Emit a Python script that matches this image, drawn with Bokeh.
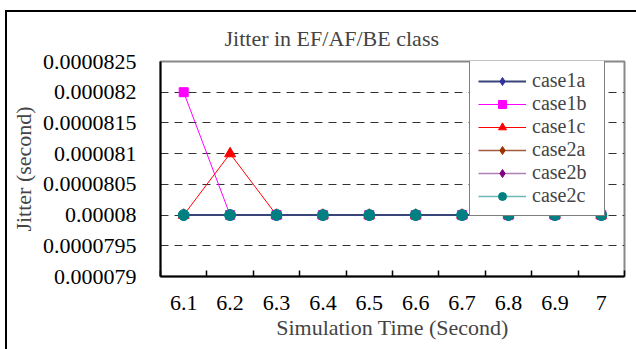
import numpy as np
from bokeh.plotting import figure
from bokeh.models import FixedTicker, CustomJSTickFormatter, Legend, LegendItem, Range1d, Title
from bokeh.embed import file_html
from bokeh.resources import INLINE

times = ["6.1", "6.2", "6.3", "6.4", "6.5", "6.6", "6.7", "6.8", "6.9", "7"]
case1a = [0.00008] * 10
case1b = [0.000082, 0.00008, 0.00008, 0.00008, 0.00008, 0.00008, 0.00008, 0.00008, 0.00008, 0.00008]
case1c = [0.00008, 0.000081, 0.00008, 0.00008, 0.00008, 0.00008, 0.00008, 0.00008, 0.00008, 0.00008]
case2a = [0.00008] * 10
case2b = [0.00008] * 10
case2c = [0.00008] * 10
y_ticks = [0.000079, 0.0000795, 0.00008, 0.0000805, 0.000081, 0.0000815, 0.000082, 0.0000825]
title_text = "Jitter in EF/AF/BE class"

FONT = "Liberation Serif"
xs = np.arange(1, len(times) + 1)

p = figure(width=631, height=339, output_backend="svg", toolbar_location=None,
           x_range=Range1d(0.5, len(times) + 0.5), y_range=Range1d(y_ticks[0], y_ticks[-1]),
           min_border_left=152, min_border_right=14, min_border_top=49, min_border_bottom=75)
p.margin = (10, 0, 0, 5)
p.styles = {"border-top": "2px solid black", "border-left": "2px solid black"}
p.background_fill_color = "white"
p.border_fill_color = "white"
p.outline_line_color = "#888888"
p.outline_line_width = 2

t = Title(text=title_text, align="left", offset=64, text_font=FONT,
          text_font_size="22px", text_font_style="normal", standoff=18, vertical_align="top")
p.add_layout(t, "above")

# x axis
p.xaxis.ticker = FixedTicker(ticks=list(xs), minor_ticks=list(np.arange(0.5, len(times) + 1, 1.0)))
p.xaxis.major_label_overrides = {int(i): s for i, s in zip(xs, times)}
p.xaxis.major_tick_line_color = None
p.xaxis.minor_tick_in = 6
p.xaxis.minor_tick_out = 0
p.xaxis.minor_tick_line_color = "black"
p.xaxis.minor_tick_line_width = 1.5
p.xaxis.axis_line_width = 2
p.xaxis.axis_line_color = "black"
p.xaxis.major_label_standoff = 13
p.xaxis.major_label_text_font = FONT
p.xaxis.major_label_text_font_size = "22px"
p.xaxis.major_label_text_color = "black"
p.xaxis.axis_label = "Simulation Time (Second)"
p.xaxis.axis_label_text_font = FONT
p.xaxis.axis_label_text_font_size = "22px"
p.xaxis.axis_label_text_font_style = "normal"
p.xaxis.axis_label_standoff = 2

# y axis
p.yaxis.ticker = FixedTicker(ticks=y_ticks)
p.yaxis.formatter = CustomJSTickFormatter(code="return tick.toFixed(7).replace(/0+$/, '');")
p.yaxis.major_tick_line_color = None
p.yaxis.minor_tick_line_color = None
p.yaxis.axis_line_width = 2
p.yaxis.axis_line_color = "black"
p.yaxis.major_label_standoff = 18
p.yaxis.major_label_text_font = FONT
p.yaxis.major_label_text_font_size = "22px"
p.yaxis.major_label_text_color = "black"
p.yaxis.axis_label = "Jitter (second)"
p.yaxis.axis_label_text_font = FONT
p.yaxis.axis_label_text_font_size = "22px"
p.yaxis.axis_label_text_font_style = "normal"
p.yaxis.axis_label_standoff = 4

p.xgrid.grid_line_color = None
p.ygrid.grid_line_color = "#333333"
p.ygrid.grid_line_dash = "8 6"
p.ygrid.grid_line_width = 1

series = [
    ("case1a", case1a, "#333399", "#39457A", "diamond", 11, 2),
    ("case1b", case1b, "#FF00FF", "#FF00FF", "square", 9, 1),
    ("case1c", case1c, "#FF0000", "#FF0000", "triangle", 11, 1),
    ("case2a", case2a, "#993300", "#A05A40", "diamond", 11, 1.5),
    ("case2b", case2b, "#800080", "#B080B8", "diamond", 11, 1.5),
    ("case2c", case2c, "#008080", "#70B8B8", "circle", 11, 1.5),
]
# lines first (case1a line on top of the other lines), then markers
line_r = {}
for name, ys, mc, lc, marker, size, lw in series[1:] + series[:1]:
    line_r[name] = p.line(xs, ys, line_color=lc, line_width=lw)
items = []
for name, ys, mc, lc, marker, size, lw in series:
    r2 = p.scatter(xs, ys, marker=marker, size=size, fill_color=mc, line_color=mc)
    items.append(LegendItem(label=name, renderers=[line_r[name], r2]))

legend = Legend(items=items, location=(309, 60), glyph_width=48, glyph_height=20,
                label_height=20, label_width=64, spacing=0, padding=8, margin=0, label_standoff=6,
                label_text_font=FONT, label_text_font_size="20px",
                border_line_color="black", border_line_width=1.5,
                background_fill_color="white", background_fill_alpha=1)
p.add_layout(legend, "center")

open("out.html", "w").write(file_html(p, INLINE))
